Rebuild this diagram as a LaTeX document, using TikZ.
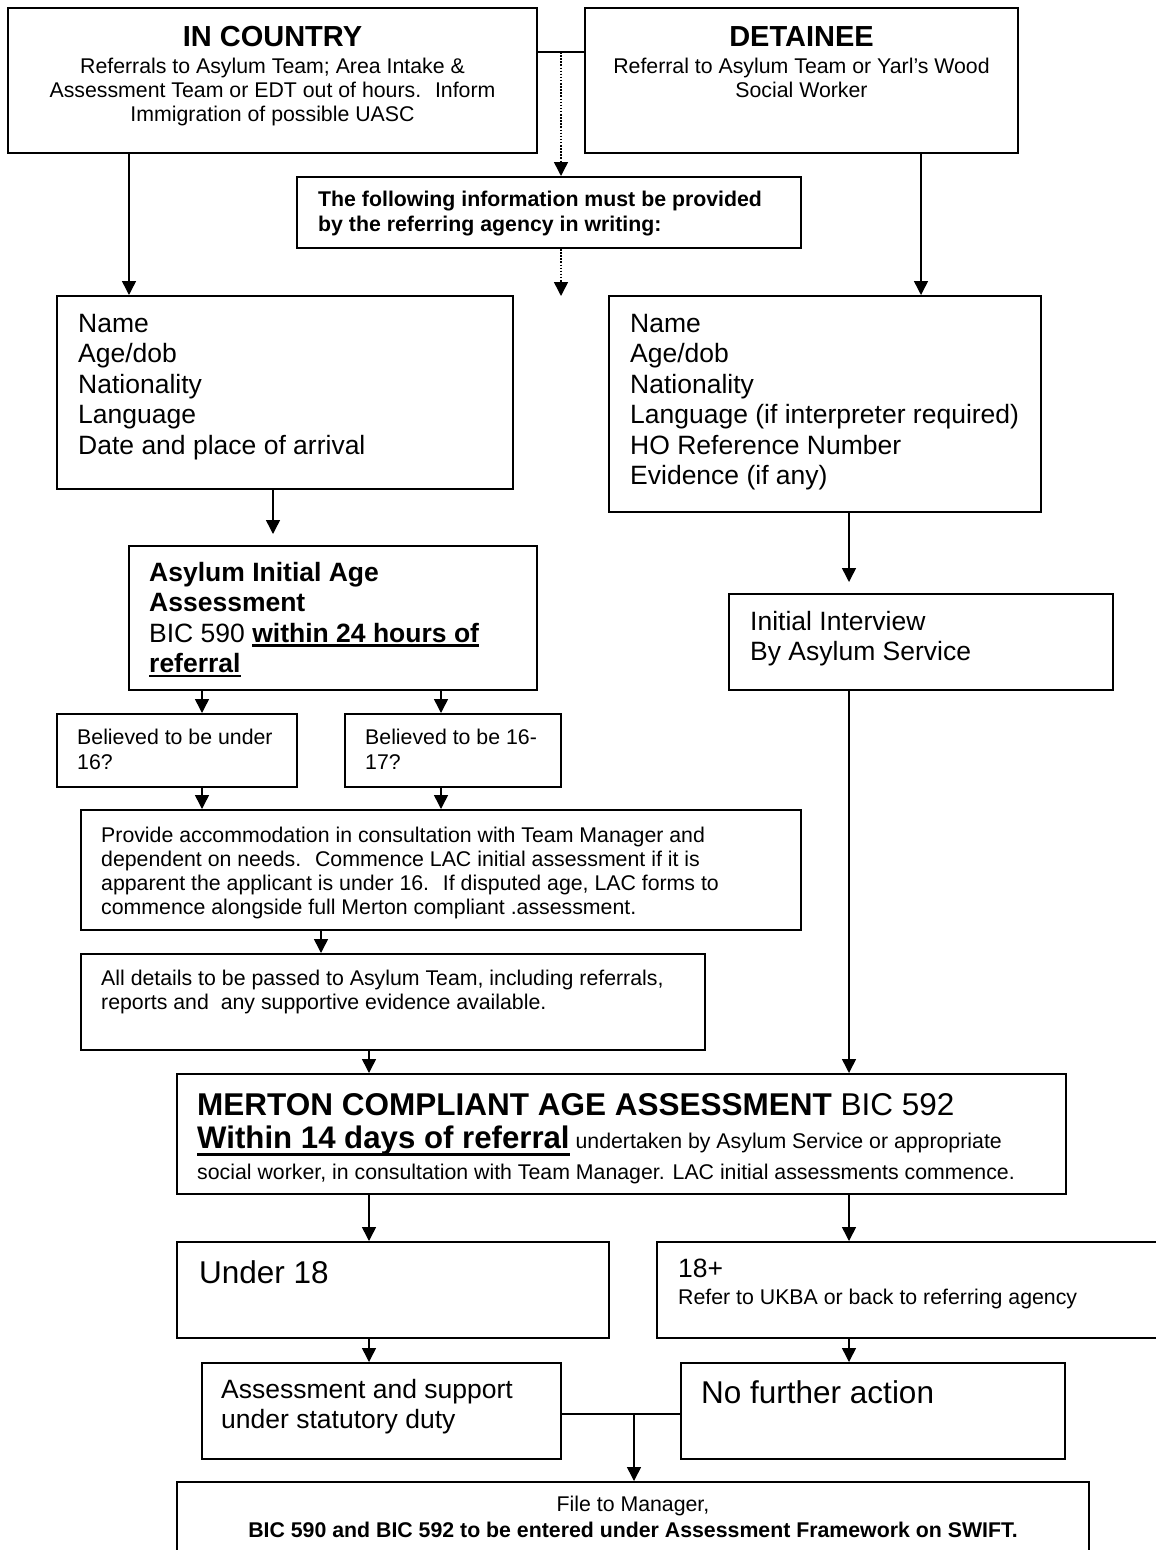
\documentclass[tikz,border=0pt]{standalone}
\usepackage{fontspec}
\setmainfont{Liberation Sans}
\usetikzlibrary{arrows.meta,fit,calc}
\newsavebox\ulsave
\newcommand\ulx[3]{\sbox\ulsave{#1}\rlap{\rule[#2]{\wd\ulsave}{#3}}\usebox\ulsave}
\newcommand\fsz[2]{\fontsize{#1}{#2}\selectfont}
\begin{document}
\begin{tikzpicture}[x=1pt,y=-1pt,
  box/.style={draw, line width=2pt, inner sep=0pt},
  txt/.style={inner sep=0pt, anchor=base west},
  ctxt/.style={inner sep=0pt, anchor=base},
  arr/.style={line width=1.5pt, -{Triangle[length=14pt,width=14pt]}},
  gaparr/.style={arr, shorten >=11pt},
  dotarr/.style={arr, dash pattern=on 1.5pt off 1.6pt},
  conn/.style={line width=1.5pt}]
\useasboundingbox (0,0) rectangle (1156,1550);
\fill[white] (0,0) rectangle (1156,1550);
\clip (0,0) rectangle (1156,1550);

% boxes
\node[box, fit={(8,8) (537,153)}] (ic) {};
\node[box, fit={(585,8) (1018,153)}] (det) {};
\node[box, fit={(297,177) (801,248)}] (info) {};
\node[box, fit={(57,296) (513,489)}] (lbox) {};
\node[box, fit={(609,296) (1041,512)}] (rbox) {};
\node[box, fit={(129,546) (537,690)}] (asy) {};
\node[box, fit={(729,594) (1113,690)}] (ii) {};
\node[box, fit={(57,714) (297,787)}] (b1) {};
\node[box, fit={(345,714) (561,787)}] (b2) {};
\node[box, fit={(81,810) (801,930)}] (prov) {};
\node[box, fit={(81,954) (705,1050)}] (all) {};
\node[box, fit={(177,1074) (1066,1194)}] (mer) {};
\node[box, fit={(177,1242) (609,1338)}] (u18) {};
\node[box, fit={(657,1242) (1175,1338)}] (o18) {};
\node[box, fit={(202,1363) (561,1459)}] (asu) {};
\node[box, fit={(681,1363) (1065,1459)}] (nfa) {};
\node[box, fit={(177,1482) (1089,1575)}] (fin) {};

% texts
\node[ctxt] at (272.5,46) {\fsz{29}{30}\bfseries IN COUNTRY};
\node[ctxt] at (272.5,73) {\fsz{21.3}{24.4}\begin{tabular}[t]{@{}c@{}}Referrals to Asylum Team; Area Intake \&\\Assessment Team or EDT out of hours.~ Inform\\Immigration of possible UASC\end{tabular}};
\node[ctxt] at (801.5,46) {\fsz{29}{30}\bfseries DETAINEE};
\node[ctxt] at (801.5,73) {\fsz{21.3}{24.4}\begin{tabular}[t]{@{}c@{}}Referral to Asylum Team or Yarl’s Wood\\Social Worker\end{tabular}};
\node[txt] at (318,206) {\fsz{21.3}{25}\bfseries\begin{tabular}[t]{@{}l@{}}The following information must be provided\\by the referring agency in writing:\end{tabular}};
\node[txt] at (78,332) {\fsz{26.5}{30.5}\begin{tabular}[t]{@{}l@{}}Name\\Age/dob\\Nationality\\Language\\Date and place of arrival\end{tabular}};
\node[txt] at (630,332) {\fsz{26.5}{30.5}\begin{tabular}[t]{@{}l@{}}Name\\Age/dob\\Nationality\\Language (if interpreter required)\\HO Reference Number\\Evidence (if any)\end{tabular}};
\node[txt] at (149,581) {\fsz{26.5}{30.5}\begin{tabular}[t]{@{}l@{}}\bfseries Asylum Initial Age\\\bfseries Assessment\\BIC 590 \ulx{\bfseries within 24 hours of}{-4.5pt}{2.5pt}\\\ulx{\bfseries referral}{-4.5pt}{2.5pt}\end{tabular}};
\node[txt] at (750,630) {\fsz{26.5}{30}\begin{tabular}[t]{@{}l@{}}Initial Interview\\By Asylum Service\end{tabular}};
\node[txt] at (77,744) {\fsz{21.3}{25.5}\begin{tabular}[t]{@{}l@{}}Believed to be under\\16?\end{tabular}};
\node[txt] at (365,744) {\fsz{21.3}{25.5}\begin{tabular}[t]{@{}l@{}}Believed to be 16-\\17?\end{tabular}};
\node[txt] at (101,842) {\fsz{21.3}{24.2}\begin{tabular}[t]{@{}l@{}}Provide accommodation in consultation with Team Manager and\\dependent on needs.~ Commence LAC initial assessment if it is\\apparent the applicant is under 16.~ If disputed age, LAC forms to\\commence alongside full Merton compliant .assessment.\end{tabular}};
\node[txt] at (101,985) {\fsz{21.3}{24.2}\begin{tabular}[t]{@{}l@{}}All details to be passed to Asylum Team, including referrals,\\reports and~ any supportive evidence available.\end{tabular}};
\node[txt] at (197,1115) {\fsz{31.5}{33}\bfseries MERTON COMPLIANT AGE ASSESSMENT\mdseries{} BIC 592};
\node[txt] at (197,1148) {\fsz{31.2}{33}\ulx{\bfseries Within 14 days of referral}{-8pt}{3pt}\fsz{21.3}{24}\ undertaken by Asylum Service or appropriate};
\node[txt] at (197,1179) {\fsz{21.3}{24}social worker, in consultation with Team Manager. LAC initial assessments commence.};
\node[txt] at (199,1283) {\fsz{31.5}{33}Under 18};
\node[txt] at (678,1277) {\fsz{26.5}{28}18+};
\node[txt] at (678,1304) {\fsz{21.3}{24}Refer to UKBA or back to referring agency};
\node[txt] at (221,1398) {\fsz{26.5}{30}\begin{tabular}[t]{@{}l@{}}Assessment and support\\under statutory duty\end{tabular}};
\node[txt] at (701,1403) {\fsz{31.5}{33}No further action};
\node[ctxt] at (633,1511) {\fsz{21.3}{26}\begin{tabular}[t]{@{}c@{}}File to Manager,\\\bfseries BIC 590 and BIC 592 to be entered under Assessment Framework on SWIFT.\end{tabular}};

% helper coordinates
\coordinate (j1) at (561,52);
\coordinate (j2) at (561,296);
\coordinate (xa) at (129,0);
\coordinate (xb) at (921,0);
\coordinate (xc) at (273,0);
\coordinate (xd) at (849,0);
\coordinate (xe) at (202,0);
\coordinate (xf) at (441,0);
\coordinate (xg) at (321,0);
\coordinate (xh) at (369,0);
\coordinate (j3) at (634,1414);

% connectors
\draw[conn] (ic.east |- j1) -- (det.west |- j1);
\draw[dotarr] (j1) -- (j1 |- info.north);
\draw[dotarr] (j1 |- info.south) -- (j2);
\draw[arr] (ic.south -| xa) -- (lbox.north -| xa);
\draw[arr] (det.south -| xb) -- (rbox.north -| xb);
\draw[gaparr] (lbox.south -| xc) -- (asy.north -| xc);
\draw[gaparr] (rbox.south -| xd) -- (ii.north -| xd);
\draw[arr] (asy.south -| xe) -- (b1.north -| xe);
\draw[arr] (asy.south -| xf) -- (b2.north -| xf);
\draw[arr] (b1.south -| xe) -- (prov.north -| xe);
\draw[arr] (b2.south -| xf) -- (prov.north -| xf);
\draw[arr] (prov.south -| xg) -- (all.north -| xg);
\draw[arr] (all.south -| xh) -- (mer.north -| xh);
\draw[arr] (ii.south -| xd) -- (mer.north -| xd);
\draw[arr] (mer.south -| xh) -- (u18.north -| xh);
\draw[arr] (mer.south -| xd) -- (o18.north -| xd);
\draw[arr] (u18.south -| xh) -- (asu.north -| xh);
\draw[arr] (o18.south -| xd) -- (nfa.north -| xd);
\draw[conn] (asu.east |- j3) -- (nfa.west |- j3);
\draw[arr] (j3) -- (fin.north -| j3);
\end{tikzpicture}
\end{document}
